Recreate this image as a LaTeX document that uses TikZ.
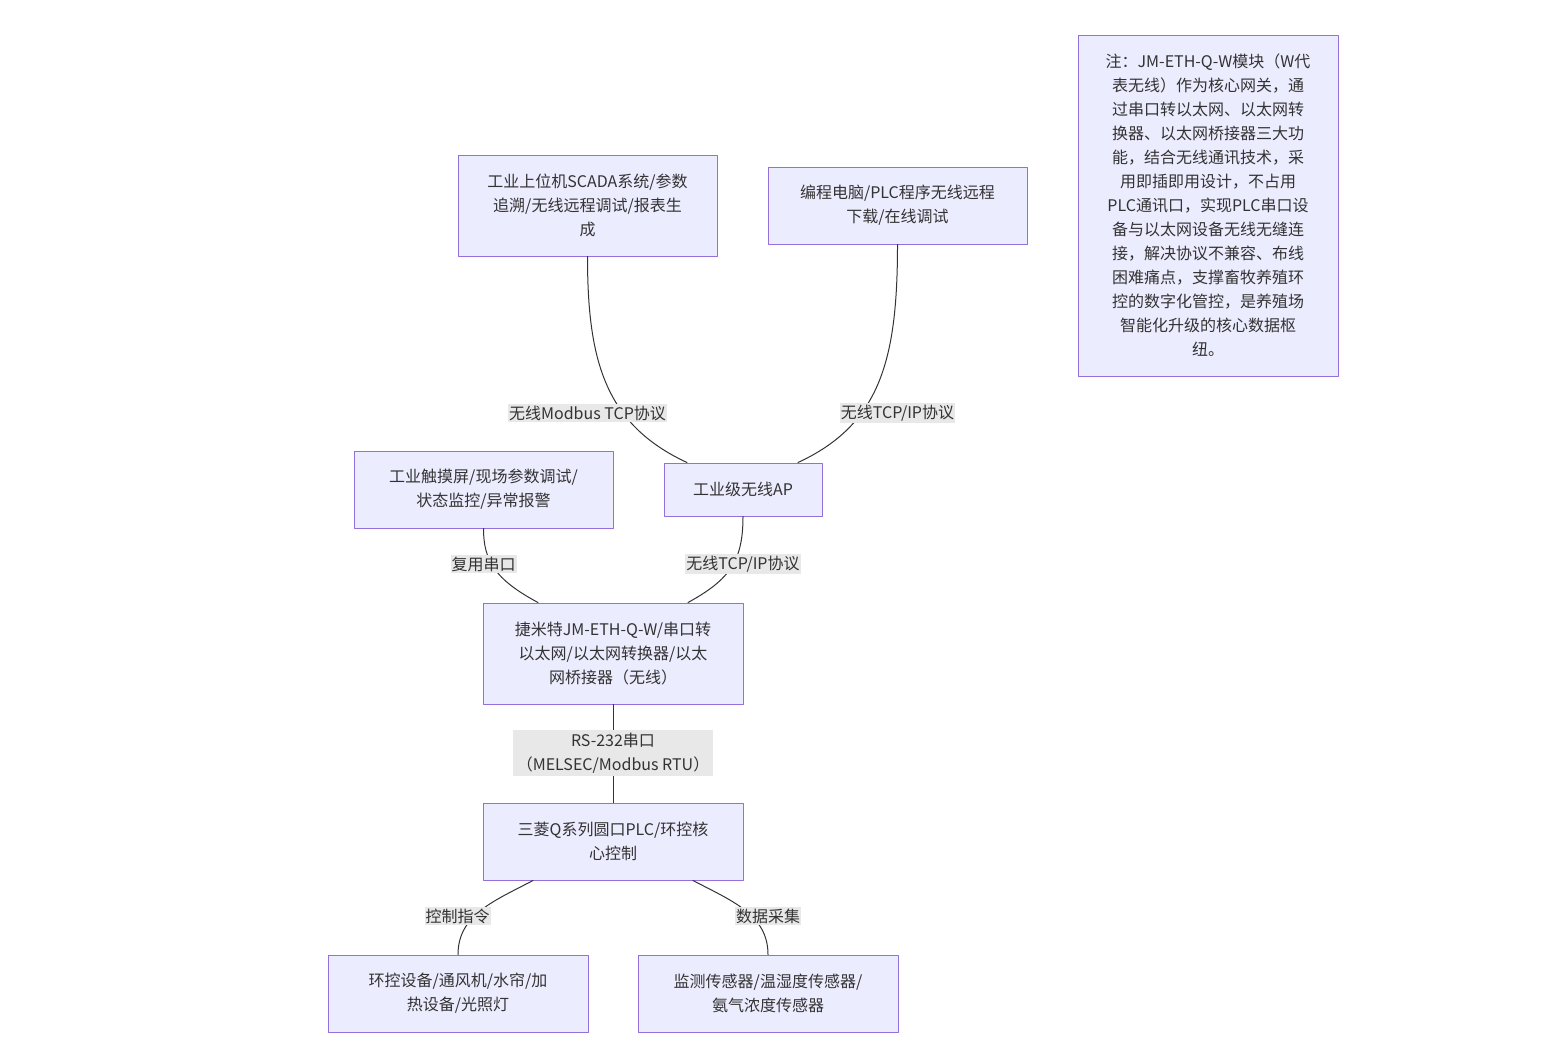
\documentclass[tikz,border=0pt]{standalone}
\usepackage{fontspec}
\setmainfont{Noto Sans CJK SC}
\usetikzlibrary{positioning}
\definecolor{boxfill}{RGB}{236,236,255}
\definecolor{boxline}{RGB}{147,112,219}
\definecolor{inkgray}{RGB}{51,51,51}
\definecolor{lblgray}{RGB}{232,232,232}

\begin{document}
\begin{tikzpicture}[
  x=1pt,y=-1pt,
  line cap=round,line join=round,
  box/.style={draw=boxline,fill=boxfill,line width=1pt,inner sep=0pt,
    align=center,text=inkgray,font=\fontsize{16}{24}\selectfont},
  lbl/.style={fill=lblgray,inner xsep=1pt,inner ysep=2pt,align=center,
    text=inkgray,font=\fontsize{16}{24}\selectfont},
  link/.style={draw=inkgray,line width=1pt}
]
\useasboundingbox (0,0) rectangle (1552,1058);

% top row
\node[box,minimum width=259,minimum height=101] (scada) at (587.5,205.5)
  {工业上位机SCADA系统/参数\\追溯/无线远程调试/报表生\\成};
\node[box,minimum width=259,minimum height=77] (prog) at (897.5,205.5)
  {编程电脑/PLC程序无线远程\\下载/在线调试};
\node[box,minimum width=260,minimum height=341] (note) at (1208,205.5)
  {注：JM-ETH-Q-W模块（W代\\表无线）作为核心网关，通\\过串口转以太网、以太网转\\换器、以太网桥接器三大功\\能，结合无线通讯技术，采\\用即插即用设计，不占用\\PLC通讯口，实现PLC串口设\\备与以太网设备无线无缝连\\接，解决协议不兼容、布线\\困难痛点，支撑畜牧养殖环\\控的数字化管控，是养殖场\\智能化升级的核心数据枢\\纽。};

% middle
\node[box,minimum width=259,minimum height=77] (hmi) at (483.5,489.5)
  {工业触摸屏/现场参数调试/\\状态监控/异常报警};
\node[box,minimum width=158,minimum height=53] (ap) at (743,489.5)
  {工业级无线AP};
\node[box,minimum width=260,minimum height=101] (gw) at (613,653.5)
  {捷米特JM-ETH-Q-W/串口转\\以太网/以太网转换器/以太\\网桥接器（无线）};
\node[box,minimum width=260,minimum height=77] (plc) at (613,841.5)
  {三菱Q系列圆口PLC/环控核\\心控制};

% field devices
\node[box,minimum width=260,minimum height=77] (env) at (458,993.5)
  {环控设备/通风机/水帘/加\\热设备/光照灯};
\node[box,minimum width=260,minimum height=77] (sens) at (768,993.5)
  {监测传感器/温湿度传感器/\\氨气浓度传感器};

% links
\draw[link] (scada.south) .. controls +(0,104) and +(-82,-38) .. ([xshift=-56pt]ap.north);
\draw[link] (prog.south) .. controls +(0,116) and +(82,-38) .. ([xshift=55pt]ap.north);
\draw[link] (hmi.south) .. controls +(0,32) and +(-43,-23) .. ([xshift=-75pt]gw.north);
\draw[link] (ap.south) .. controls +(0,44) and +(42,-23) .. ([xshift=75pt]gw.north);
\draw[link] (gw.south) -- (plc.north);
\draw[link] ([xshift=-80pt]plc.south) .. controls +(-38,20) and +(0,-40) .. (env.north);
\draw[link] ([xshift=80pt]plc.south) .. controls +(38,20) and +(0,-40) .. (sens.north);

% link labels
\node[lbl] (l-modbus) at (587.5,413) {无线Modbus TCP协议};
\node[lbl] (l-tcpa) at (897.5,413) {无线TCP/IP协议};
\node[lbl] (l-serial) at (483.5,564) {复用串口};
\node[lbl] (l-tcpb) at (743,564) {无线TCP/IP协议};
\node[lbl,minimum width=200,minimum height=46,inner ysep=0pt] (l-rs232) at (613,753)
  {RS-232串口\\（MELSEC/Modbus RTU）};
\node[lbl] (l-ctrl) at (457.5,916) {控制指令};
\node[lbl] (l-data) at (768,916) {数据采集};

\end{tikzpicture}
\end{document}
